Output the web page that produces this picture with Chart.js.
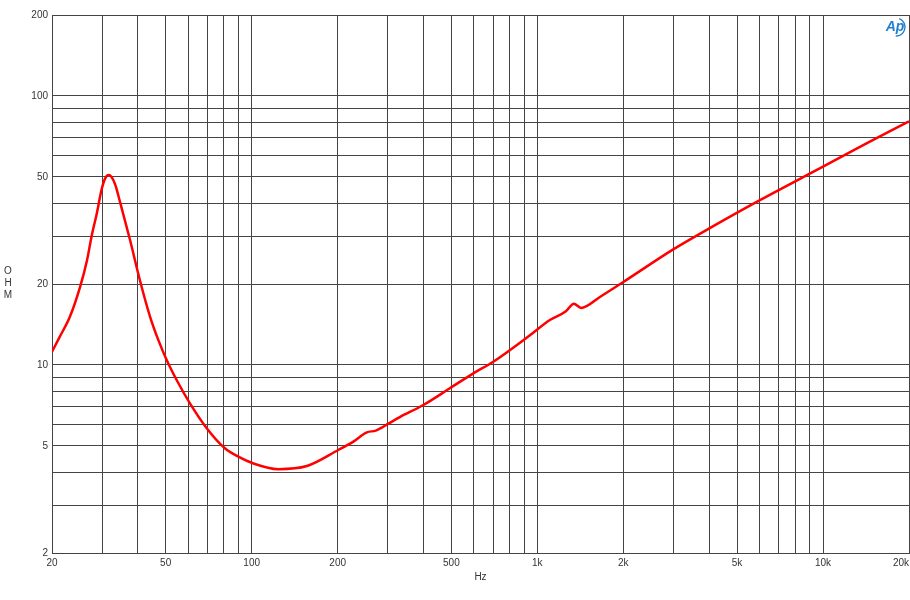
<!DOCTYPE html>
<html>
<head>
<meta charset="utf-8">
<script src="https://cdn.jsdelivr.net/npm/chart.js@4/dist/chart.umd.min.js"></script>
<style>
  html, body { margin: 0; padding: 0; background: #ffffff; }
  #wrap { position: relative; width: 910px; height: 600px; }
</style>
</head>
<body>
<div id="wrap"><canvas id="c" width="910" height="600"></canvas></div>
<script>
// ---- data ----
const freqHz = [20, 21.3, 23.1, 25.1, 26.5, 27.5, 28.7, 29.8, 30.7, 31.6, 33.2, 34.6, 37.5, 40.6, 44.1, 47.1, 50.4, 55.4, 60.8, 69.6, 80.6, 89.8, 101, 124, 156, 201, 227, 253, 272, 301, 330, 399, 494, 597, 701, 942, 1106, 1256, 1342, 1422, 1656, 1994, 2990, 4000, 6014, 10000, 14200, 20000];
const impedanceOhm = [11.2, 12.74, 15.1, 19.55, 24.4, 30.0, 36.6, 44.7, 49.4, 50.8, 47.2, 40.4, 29.2, 20.7, 15.1, 12.4, 10.44, 8.55, 7.20, 5.82, 4.90, 4.56, 4.31, 4.10, 4.21, 4.83, 5.19, 5.62, 5.70, 6.05, 6.40, 7.10, 8.19, 9.31, 10.28, 12.9, 14.7, 15.8, 16.9, 16.3, 17.9, 20.3, 26.9, 32.2, 41.0, 54.6, 66.7, 80.5];

const xGridValues = [20,30,40,50,60,70,80,90,100,200,300,400,500,600,700,800,900,1000,2000,3000,4000,5000,6000,7000,8000,9000,10000,20000];
const xLabelValues = [20, 50, 100, 200, 500, 1000, 2000, 5000, 10000, 20000];
const xLabelTexts  = ['20', '50', '100', '200', '500', '1k', '2k', '5k', '10k', '20k'];

const yGridValues = [2,3,4,5,6,7,8,9,10,20,30,40,50,60,70,80,90,100,200];
const yLabelValues = [2, 5, 10, 20, 50, 100, 200];
const yLabelTexts  = ['2', '5', '10', '20', '50', '100', '200'];

const xTitle = 'Hz';
const yTitleLetters = ['O', 'H', 'M'];

// ---- chart ----
const FONT = "'Liberation Sans', Arial, sans-serif";
const GRID = '#444444';
const TEXT = '#333333';

const points = freqHz.map((f, i) => ({ x: f, y: impedanceOhm[i] }));

const sideText = {
  id: 'sideText',
  afterDraw(chart) {
    const ctx = chart.ctx;
    ctx.save();
    ctx.fillStyle = TEXT;
    ctx.font = '10px ' + FONT;
    ctx.textAlign = 'center';
    ctx.textBaseline = 'middle';
    yTitleLetters.forEach((ch, i) => ctx.fillText(ch, 8, 271 + i * 12));
    // AP logo (text + arc)
    ctx.fillStyle = '#1f7fd3';
    ctx.strokeStyle = '#1f7fd3';
    ctx.font = 'italic bold 14px ' + FONT;
    ctx.textAlign = 'center';
    ctx.fillText('Ap', 895, 27);
    ctx.lineWidth = 1.3;
    ctx.beginPath();
    ctx.arc(896, 27, 9, -1.2, 1.6);
    ctx.stroke();
    ctx.restore();
  }
};

const alignLastLabel = {
  id: 'alignLastLabel',
  beforeDraw(chart) {
    const s = chart.scales.x;
    if (!s || !s.getLabelItems) return;
    const items = s.getLabelItems(chart.chartArea);
    for (const it of items) {
      if (it.label === xLabelTexts[xLabelTexts.length - 1]) {
        it.options.textAlign = 'right';
      }
    }
  }
};

new Chart(document.getElementById('c'), {
  type: 'line',
  data: {
    datasets: [{
      data: points,
      borderColor: '#ff0000',
      borderWidth: 2.5,
      pointRadius: 0,
      fill: false,
      cubicInterpolationMode: 'monotone'
    }]
  },
  options: {
    responsive: false,
    animation: false,
    devicePixelRatio: 1,
    layout: { padding: { left: 0, right: 1, top: 15, bottom: 0 } },
    plugins: { legend: { display: false }, tooltip: { enabled: false } },
    scales: {
      x: {
        type: 'logarithmic',
        min: 20, max: 20000,
        afterBuildTicks: (s) => { s.ticks = xGridValues.map(v => ({ value: v })); },
        afterFit: (s) => { s.height = 47; s.paddingLeft = 0; s.paddingRight = 0; },
        ticks: {
          autoSkip: false, maxRotation: 0, minRotation: 0, padding: 4,
          color: TEXT, font: { family: FONT, size: 10 },
          callback: (v) => { const i = xLabelValues.indexOf(v); return i >= 0 ? xLabelTexts[i] : ''; }
        },
        grid: { color: GRID, lineWidth: 1, drawTicks: false },
        border: { color: GRID, width: 1 },
        title: { display: true, text: xTitle, color: TEXT, font: { family: FONT, size: 10 }, padding: { top: 0, bottom: 17 } }
      },
      y: {
        type: 'logarithmic',
        min: 2, max: 200,
        afterBuildTicks: (s) => { s.ticks = yGridValues.map(v => ({ value: v })); },
        afterFit: (s) => { s.width = 52; s.paddingTop = 0; s.paddingBottom = 0; },
        ticks: {
          autoSkip: false, padding: 4,
          color: TEXT, font: { family: FONT, size: 10 },
          callback: (v) => { const i = yLabelValues.indexOf(v); return i >= 0 ? yLabelTexts[i] : ''; }
        },
        grid: { color: GRID, lineWidth: 1, drawTicks: false },
        border: { color: GRID, width: 1 }
      }
    }
  },
  plugins: [sideText, alignLastLabel]
});
</script>
</body>
</html>
